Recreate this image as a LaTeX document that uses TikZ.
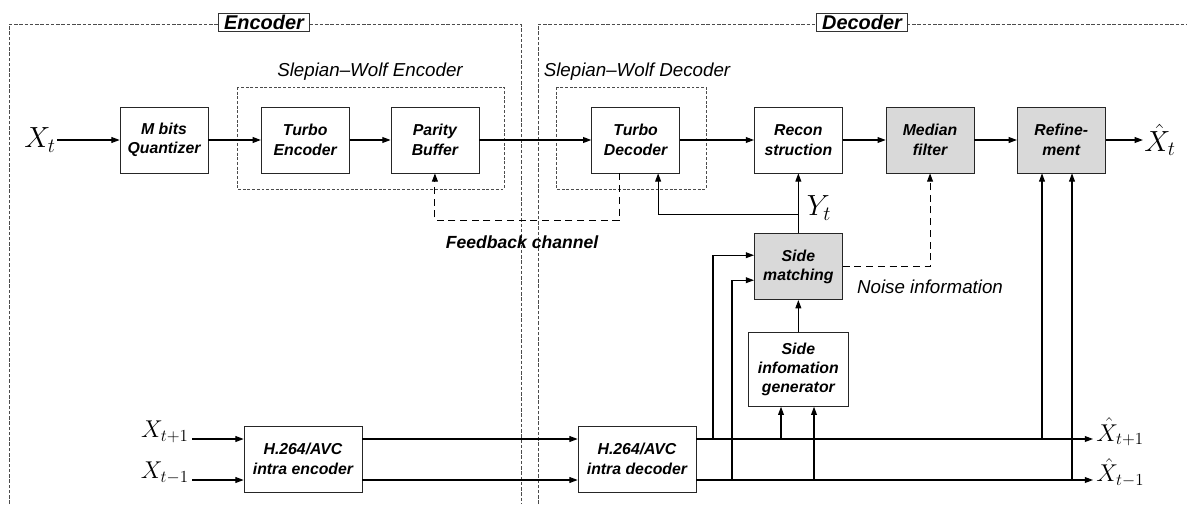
\documentclass[tikz,border=0pt]{standalone}
\usepackage{fontspec}
\setsansfont{Liberation Sans}
\usepackage{tikz}
\usetikzlibrary{arrows.meta, positioning, calc}

\begin{document}
\begin{tikzpicture}[
  x=0.03cm, y=-0.03cm,
  font=\sffamily,
  block/.style={rectangle, draw=black!85, line width=0.6pt, fill=white, inner sep=0pt, minimum width=2.64cm, minimum height=1.98cm, align=center, font=\sffamily\bfseries\itshape\fontsize{13.5}{16.5}\selectfont},
  shaded/.style={block, fill=gray!30},
  arrow/.style={line width=0.9pt, -{Triangle[length=7pt,width=5pt]}},
  fbline/.style={line width=0.9pt, dash pattern=on 6pt off 4pt, -{Triangle[length=7pt,width=5pt]}},
  frame/.style={line width=0.5pt, draw=black!70, dash pattern=on 3pt off 1.5pt},
  swframe/.style={line width=0.5pt, draw=black!70, dash pattern=on 2.5pt off 1.5pt},
  titlebox/.style={draw=black!80, line width=0.6pt, fill=white, inner xsep=5pt, inner ysep=1.5pt, font=\sffamily\bfseries\itshape\fontsize{17}{19}\selectfont},
  caption/.style={font=\sffamily\itshape\fontsize{16}{19}\selectfont},
  sym/.style={inner sep=1pt, font=\fontsize{24}{28}\selectfont},
  symsmall/.style={inner sep=1pt, font=\fontsize{21}{25}\selectfont}
]
\useasboundingbox (0,0) rectangle (1187,504);

% encoder / decoder frames
\draw[frame] (9,504) -- (9,24) -- (521,24) -- (521,504);
\draw[frame] (538,504) -- (538,24) -- (1187,24);
\node (enctitle) [titlebox] at (264,22) {Encoder};
\node (dectitle) [titlebox] at (862,22) {Decoder};

% Slepian-Wolf groups
\draw[swframe] (237,87) rectangle (504,189);
\draw[swframe] (556,87) rectangle (706,189);
\node (swenc) [caption] at (370,72) {Slepian--Wolf Encoder};
\node (swdec) [caption] at (637,72) {Slepian--Wolf Decoder};

% main row
\node (quant) [block] at (164,140) {M bits\\Quantizer};
\node (tenc) [block, right=1.575cm of quant] {Turbo\\Encoder};
\node (pbuf) [block, right=1.23cm of tenc] {Parity\\Buffer};
\node (tdec) [block, right=3.36cm of pbuf] {Turbo\\Decoder};
\node (recon) [block, right=2.22cm of tdec] {Recon\\struction};
\node (median) [shaded, right=1.29cm of recon] {Median\\filter};
\node (refine) [shaded, right=1.275cm of median] {Refine-\\ment};
\node (xt) [sym] at (40,140) {$X_t$};
\node (xht) [sym] at (1160,140) {$\hat{X}_t$};

% side information
\node (smatch) [shaded, below=1.8cm of recon] {Side\\matching};
\node (sig) [block, below=0.96cm of smatch, minimum width=3cm, minimum height=2.22cm] {Side\\infomation\\generator};
\node (yt) [sym] at (819,208) {$Y_t$};

% intra coding
\node (ienc) [block, minimum width=3.54cm] at (303,459) {H.264/AVC\\intra encoder};
\node (idec) [block, minimum width=3.54cm] at (637,459) {H.264/AVC\\intra decoder};
\node (xp1) [symsmall, anchor=east] at (190,432) {$X_{t+1}$};
\node (xm1) [symsmall, anchor=east] at (190,473) {$X_{t-1}$};
\node (xhp1) [symsmall, anchor=west] at (1095,432) {$\hat{X}_{t+1}$};
\node (xhm1) [symsmall, anchor=west] at (1095,473) {$\hat{X}_{t-1}$};

\node (fbtext) [font=\sffamily\bfseries\itshape\fontsize{15}{18}\selectfont] at (522,242) {Feedback channel};
\node (noisetext) [caption] at (930,287) {Noise information};

\coordinate (in1) at (192,439);
\coordinate (in2) at (192,480);
\coordinate (out1) at (1093,439);
\coordinate (out2) at (1093,480);
\coordinate (br1) at (713,439);
\coordinate (br2) at (732,480);
\coordinate (br3) at (781,439);
\coordinate (br4) at (814,480);
\coordinate (br5) at (1042,439);
\coordinate (br6) at (1072,480);
\coordinate (ytjoin) at ($(recon.south)+(0,41)$);

% connectors
\draw[arrow] (xt) -- (quant);
\draw[arrow] (quant) -- (tenc);
\draw[arrow] (tenc) -- (pbuf);
\draw[arrow] (pbuf) -- (tdec);
\draw[arrow] (tdec) -- (recon);
\draw[arrow] (recon) -- (median);
\draw[arrow] (median) -- (refine);
\draw[arrow] (refine) -- (xht);
\draw[fbline] ($(tdec.south)+(-16.5,0)$) |- ($(pbuf.south)+(0,47)$) -- (pbuf.south);
\draw[arrow] (smatch) -- (recon);
\draw[arrow] (ytjoin) -| ($(tdec.south)+(22.5,0)$);
\draw[fbline] (smatch.east) -| (median.south);
\draw[arrow] (sig) -- (smatch);

\draw[arrow] (in1) -- (in1 -| ienc.west);
\draw[arrow] (in2) -- (in2 -| ienc.west);
\draw[arrow] (in1 -| ienc.east) -- (in1 -| idec.west);
\draw[arrow] (in2 -| ienc.east) -- (in2 -| idec.west);
\draw[arrow] (in1 -| idec.east) -- (out1);
\draw[arrow] (in2 -| idec.east) -- (out2);
\draw[arrow] (br1) |- ($(smatch.west)+(0,-11.5)$);
\draw[arrow] (br2) |- ($(smatch.west)+(0,13.5)$);
\draw[arrow] (br3) -- (br3 |- sig.south);
\draw[arrow] (br4) -- (br4 |- sig.south);
\draw[arrow] (br5) -- (br5 |- refine.south);
\draw[arrow] (br6) -- (br6 |- refine.south);
\end{tikzpicture}
\end{document}
